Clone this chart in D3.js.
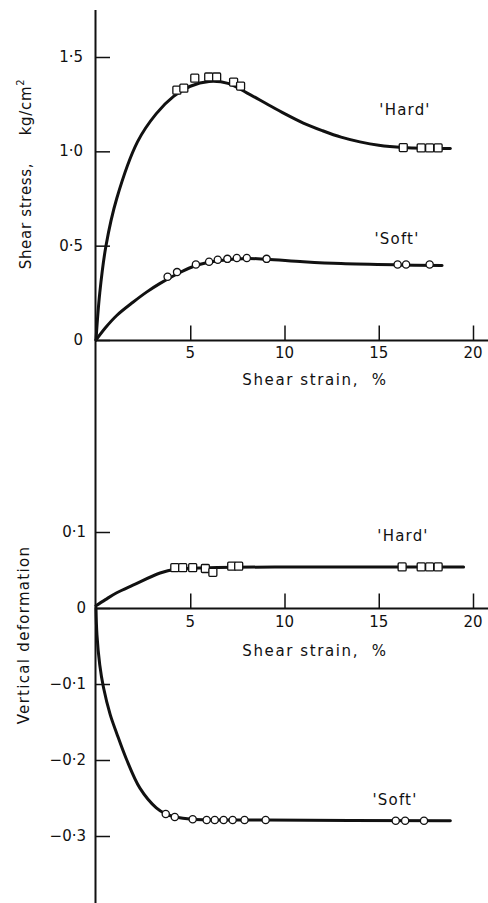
<!DOCTYPE html>
<html>
<head>
<meta charset="utf-8">
<script src="https://cdn.jsdelivr.net/npm/d3@7"></script>
<style>
  html, body { margin: 0; padding: 0; background: #fff; }
  svg text { font-family: "DejaVu Sans", "Liberation Sans", sans-serif; fill: #111; }
</style>
</head>
<body>
<svg id="chart" width="488" height="903"></svg>
<script>
// ---------- DATA ----------
const xTicks = [5, 10, 15, 20];
const stressTicks = [0, 0.5, 1.0, 1.5];
const stressTickLabels = ["0", "0·5", "1·0", "1·5"];
const vertTicks = [0.1, 0, -0.1, -0.2, -0.3];
const vertTickLabels = ["0·1", "0", "−0·1", "−0·2", "−0·3"];

// Shear stress – 'Hard' curve and points
const hardStressCurveX = [0, 0.2, 0.53, 1.1, 2.2, 3.2, 4.1, 5.0, 6.0, 7.0, 8.0, 9.0, 10.0, 11.0, 12.0, 13.0, 14.0, 15.0, 16.3, 17.5, 18.8];
const hardStressCurveY = [0, 0.25, 0.5, 0.75, 1.05, 1.2, 1.29, 1.345, 1.37, 1.36, 1.31, 1.255, 1.20, 1.15, 1.11, 1.075, 1.05, 1.032, 1.02, 1.016, 1.015];
const hardStressPtsX = [4.29, 4.66, 5.24, 5.98, 6.40, 7.30, 7.67, 16.3, 17.25, 17.7, 18.15];
const hardStressPtsY = [1.324, 1.335, 1.388, 1.394, 1.394, 1.367, 1.346, 1.02, 1.018, 1.018, 1.018];

// Shear stress – 'Soft' curve and points
const softStressCurveX = [0, 0.5, 1.1, 1.96, 2.7, 3.4, 4.3, 5.3, 6.5, 8.0, 9.05, 11.0, 13.0, 16.0, 18.36];
const softStressCurveY = [0, 0.065, 0.13, 0.2, 0.255, 0.30, 0.35, 0.395, 0.42, 0.432, 0.428, 0.415, 0.405, 0.398, 0.395];
const softStressPtsX = [3.8, 4.3, 5.3, 6.0, 6.46, 6.97, 7.47, 8.0, 9.05, 16.0, 16.45, 17.7];
const softStressPtsY = [0.335, 0.36, 0.40, 0.415, 0.425, 0.43, 0.435, 0.435, 0.43, 0.40, 0.40, 0.40];

// Vertical deformation – 'Hard'
const hardVertCurveX = [0, 0.5, 1.1, 1.96, 3.4, 4.2, 6.0, 10.0, 16.0, 19.5];
const hardVertCurveY = [0.003, 0.011, 0.02, 0.030, 0.046, 0.051, 0.053, 0.054, 0.054, 0.054];
const hardVertPtsX = [4.18, 4.6, 5.13, 5.8, 6.2, 7.2, 7.57, 16.24, 17.25, 17.7, 18.15];
const hardVertPtsY = [0.053, 0.053, 0.053, 0.052, 0.047, 0.055, 0.055, 0.054, 0.054, 0.054, 0.054];

// Vertical deformation – 'Soft'
const softVertCurveX = [0, 0.05, 0.2, 0.4, 0.75, 1.1, 1.6, 2.33, 3.2, 3.7, 4.2, 5.1, 9.0, 18.8];
const softVertCurveY = [0, -0.035, -0.075, -0.105, -0.14, -0.165, -0.198, -0.237, -0.263, -0.271, -0.275, -0.278, -0.279, -0.28];
const softVertPtsX = [3.7, 4.18, 5.13, 5.87, 6.3, 6.77, 7.25, 7.88, 9.0, 15.9, 16.4, 17.4];
const softVertPtsY = [-0.271, -0.275, -0.278, -0.279, -0.279, -0.279, -0.279, -0.279, -0.279, -0.28, -0.28, -0.28];

// ---------- DRAW ----------
const svg = d3.select("#chart");
const x = d3.scaleLinear().domain([0, 20]).range([96, 473]);
const yTop = d3.scaleLinear().domain([0, 1.5]).range([340, 57]);
const yBot = d3.scaleLinear().domain([0, 0.1]).range([608, 532]);

const zip = (xs, ys) => xs.map((v, i) => [v, ys[i]]);

// continuous vertical axis line
svg.append("line").attr("x1", 95.5).attr("x2", 95.5).attr("y1", 10).attr("y2", 903)
  .attr("stroke", "#111").attr("stroke-width", 2);

function drawXAxis(yScale, yAxisPx, tickLabelY, titleY) {
  svg.append("line").attr("x1", 95).attr("x2", 488).attr("y1", yAxisPx).attr("y2", yAxisPx)
    .attr("stroke", "#111").attr("stroke-width", 2);
  const ax = d3.axisTop(x).tickValues(xTicks).tickSize(15).tickFormat("");
  const g = svg.append("g").attr("transform", `translate(0,${yAxisPx})`).call(ax);
  g.select(".domain").remove();
  g.selectAll(".tick line").attr("stroke", "#111").attr("stroke-width", 1.5);
  svg.selectAll(null).data(xTicks).enter().append("text")
    .attr("x", d => x(d)).attr("y", tickLabelY)
    .attr("text-anchor", "middle").attr("dominant-baseline", "central")
    .attr("font-size", 15).text(d => d);
  svg.append("text").attr("x", 315).attr("y", titleY)
    .attr("text-anchor", "middle").attr("dominant-baseline", "central")
    .attr("font-size", 15).attr("letter-spacing", 1.6)
    .attr("xml:space", "preserve").text("Shear strain,  %");
}

function drawYAxis(yScale, ticks, labels, labelRight) {
  const ax = d3.axisRight(yScale).tickValues(ticks).tickSize(14).tickFormat("");
  const g = svg.append("g").attr("transform", "translate(96,0)").call(ax);
  g.select(".domain").remove();
  g.selectAll(".tick line").attr("stroke", "#111").attr("stroke-width", 1.5);
  svg.selectAll(null).data(ticks).enter().append("text")
    .attr("x", labelRight).attr("y", d => yScale(d))
    .attr("text-anchor", "end").attr("dominant-baseline", "central")
    .attr("font-size", 15).text((d, i) => labels[i]);
}

drawYAxis(yTop, stressTicks, stressTickLabels, 83);
drawXAxis(yTop, 340.5, 353, 380);
drawYAxis(yBot, vertTicks, vertTickLabels, 86);
drawXAxis(yBot, 608.5, 622, 651);

// y titles
const t1 = svg.append("text").attr("transform", "translate(26,174) rotate(-90)")
  .attr("text-anchor", "middle").attr("dominant-baseline", "central")
  .attr("font-size", 15).attr("letter-spacing", 0.7).attr("xml:space", "preserve");
t1.append("tspan").text("Shear stress,     kg/cm");
t1.append("tspan").attr("dy", -6).attr("font-size", 10).text("2");

svg.append("text").attr("transform", "translate(24,635) rotate(-90)")
  .attr("text-anchor", "middle").attr("dominant-baseline", "central")
  .attr("font-size", 15).attr("letter-spacing", 1.3).text("Vertical deformation");

function drawCurve(xs, ys, yScale) {
  const line = d3.line().x(d => x(d[0])).y(d => yScale(d[1])).curve(d3.curveCatmullRom.alpha(0.5));
  svg.append("path").attr("d", line(zip(xs, ys)))
    .attr("fill", "none").attr("stroke", "#111").attr("stroke-width", 3)
    .attr("stroke-linejoin", "round").attr("stroke-linecap", "round");
}
function drawSquares(xs, ys, yScale) {
  const s = 8;
  svg.selectAll(null).data(zip(xs, ys)).enter().append("rect")
    .attr("x", d => x(d[0]) - s / 2).attr("y", d => yScale(d[1]) - s / 2)
    .attr("width", s).attr("height", s).attr("rx", 1)
    .attr("fill", "#fff").attr("stroke", "#111").attr("stroke-width", 1.3);
}
function drawCircles(xs, ys, yScale) {
  svg.selectAll(null).data(zip(xs, ys)).enter().append("circle")
    .attr("cx", d => x(d[0])).attr("cy", d => yScale(d[1])).attr("r", 3.6)
    .attr("fill", "#fff").attr("stroke", "#111").attr("stroke-width", 1.3);
}

drawCurve(hardStressCurveX, hardStressCurveY, yTop);
drawCurve(softStressCurveX, softStressCurveY, yTop);
drawSquares(hardStressPtsX, hardStressPtsY, yTop);
drawCircles(softStressPtsX, softStressPtsY, yTop);

drawCurve(hardVertCurveX, hardVertCurveY, yBot);
drawCurve(softVertCurveX, softVertCurveY, yBot);
drawSquares(hardVertPtsX, hardVertPtsY, yBot);
drawCircles(softVertPtsX, softVertPtsY, yBot);

// series labels
const seriesLabels = [
  { text: "'Hard'", cx: 405, cy: 110 },
  { text: "'Soft'", cx: 397, cy: 239 },
  { text: "'Hard'", cx: 403, cy: 536 },
  { text: "'Soft'", cx: 395, cy: 800 }
];
svg.selectAll(null).data(seriesLabels).enter().append("text")
  .attr("x", d => d.cx).attr("y", d => d.cy)
  .attr("text-anchor", "middle").attr("dominant-baseline", "central")
  .attr("font-size", 15).attr("letter-spacing", 1.2).text(d => d.text);
</script>
</body>
</html>
